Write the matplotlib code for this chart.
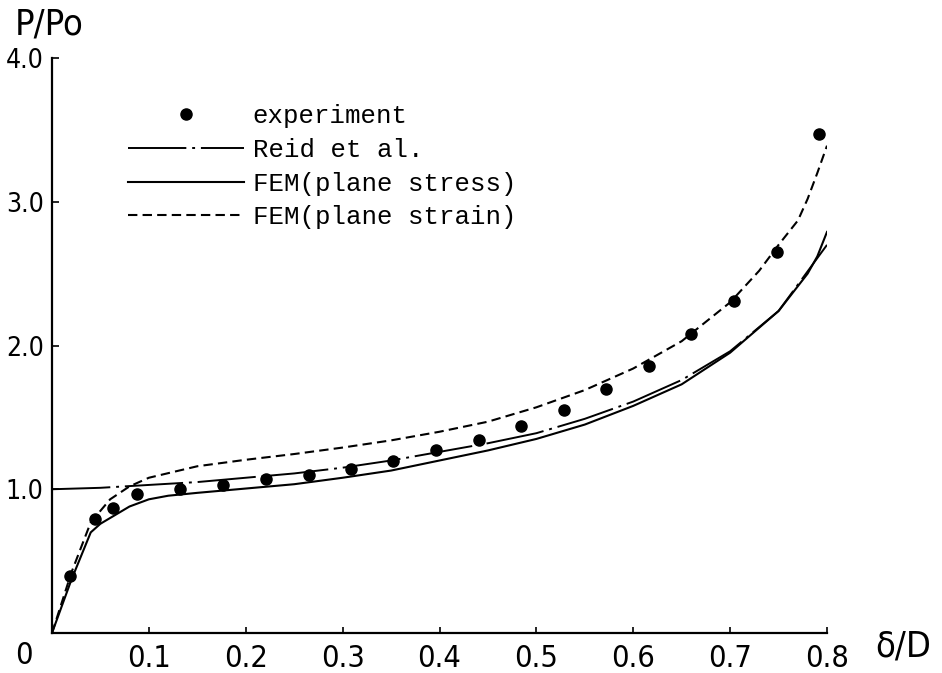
import matplotlib
matplotlib.use("Agg")
import matplotlib.pyplot as plt
from matplotlib import font_manager

# experiment points
exp_x = [0.019, 0.044, 0.063, 0.088, 0.132, 0.176, 0.221, 0.265, 0.309, 0.352,
         0.396, 0.441, 0.484, 0.528, 0.572, 0.616, 0.660, 0.704, 0.748, 0.792]
exp_y = [0.40, 0.79, 0.87, 0.97, 1.00, 1.03, 1.07, 1.10, 1.14, 1.20,
         1.27, 1.34, 1.44, 1.55, 1.70, 1.86, 2.08, 2.31, 2.65, 3.47]

# Reid et al.
reid_x = [0, 0.05, 0.1, 0.15, 0.2, 0.25, 0.3, 0.35, 0.4, 0.45, 0.5, 0.55,
          0.6, 0.65, 0.7, 0.75, 0.8]
reid_y = [1.00, 1.01, 1.03, 1.05, 1.08, 1.11, 1.15, 1.20, 1.26, 1.32, 1.39, 1.49,
          1.61, 1.76, 1.96, 2.24, 2.70]

# FEM plane stress
stress_x = [0, 0.02, 0.04, 0.05, 0.06, 0.08, 0.1, 0.12, 0.15, 0.2, 0.25, 0.3,
            0.35, 0.4, 0.45, 0.5, 0.55, 0.6, 0.65, 0.7, 0.75, 0.78, 0.79, 0.8]
stress_y = [0, 0.37, 0.70, 0.76, 0.80, 0.88, 0.93, 0.955, 0.975, 1.005, 1.035, 1.08,
            1.13, 1.20, 1.27, 1.35, 1.45, 1.58, 1.73, 1.95, 2.24, 2.50, 2.62, 2.79]

# FEM plane strain
strain_x = [0, 0.02, 0.04, 0.06, 0.08, 0.1, 0.15, 0.2, 0.25, 0.3, 0.35, 0.4,
            0.45, 0.5, 0.55, 0.6, 0.65, 0.7, 0.73, 0.75, 0.77, 0.78, 0.79, 0.8]
strain_y = [0, 0.42, 0.77, 0.93, 1.02, 1.08, 1.16, 1.205, 1.245, 1.29, 1.34, 1.40,
            1.47, 1.57, 1.69, 1.84, 2.03, 2.30, 2.52, 2.70, 2.87, 3.02, 3.20, 3.39]

x_ticks = [0.1, 0.2, 0.3, 0.4, 0.5, 0.6, 0.7, 0.8]
y_ticks = [1.0, 2.0, 3.0, 4.0]


# look for a condensed sans font on the system, fall back to DejaVu Sans
def narrow_font(size):
    prefs = ["LiberationSansNarrow-Regular", "DejaVuSansCondensed.ttf",
             "RobotoCondensed-Regular", "OpenSans_Condensed-Regular",
             "NotoSans-Condensed.ttf"]
    files = [f.fname for f in font_manager.fontManager.ttflist]
    for p in prefs:
        for fn in files:
            if p in fn:
                return font_manager.FontProperties(fname=fn, size=size)
    return font_manager.FontProperties(family="DejaVu Sans", size=size)


mono = ["Liberation Mono", "DejaVu Sans Mono"]

fig = plt.figure(figsize=(9.42, 6.73), dpi=100)
ax = fig.add_axes([52 / 942, 40 / 673, 775 / 942, 575 / 673])

ax.plot(exp_x, exp_y, "o", color="black", ms=8, label="experiment")
ax.plot(reid_x, reid_y, color="black", lw=1.4,
        linestyle=(0, (30, 3, 1.5, 3)), label="Reid et al.")
ax.plot(stress_x, stress_y, color="black", lw=1.5, label="FEM(plane stress)")
ax.plot(strain_x, strain_y, color="black", lw=1.5,
        linestyle=(0, (4.5, 2.5)), label="FEM(plane strain)")

ax.set_xlim(0, 0.8)
ax.set_ylim(0, 4.0)
for s in ["top", "right"]:
    ax.spines[s].set_visible(False)
for s in ["left", "bottom"]:
    ax.spines[s].set_linewidth(1.6)

ax.set_xticks(x_ticks)
ax.set_xticklabels([f"{v:.1f}" for v in x_ticks], fontproperties=narrow_font(22))
ax.set_yticks(y_ticks)
ax.set_yticklabels([f"{v:.1f}" for v in y_ticks], fontproperties=narrow_font(19))
ax.tick_params(axis="x", direction="in", length=4, width=1.2, pad=8)
ax.tick_params(axis="y", direction="in", length=5, width=1.2, pad=6)

ax.annotate("0", xy=(0, 0), xytext=(-28, -8), textcoords="offset pixels",
            ha="center", va="top", fontproperties=narrow_font(22))

fig.text(15 / 942, 1 - 8 / 673, "P/Po", ha="left", va="top",
         fontproperties=narrow_font(26))
fig.text(903 / 942, 1 - 646 / 673, "δ/D", ha="center", va="center",
         fontproperties=narrow_font(26))

ax.legend(loc="upper left", bbox_to_anchor=(128 / 942, 1 - 104 / 673),
          bbox_transform=fig.transFigure, frameon=False, numpoints=1,
          handlelength=4.5, handletextpad=0.35, labelspacing=0.38,
          borderpad=0, borderaxespad=0,
          prop={"family": mono, "size": 18.5})

fig.savefig("out.png", dpi=100)
